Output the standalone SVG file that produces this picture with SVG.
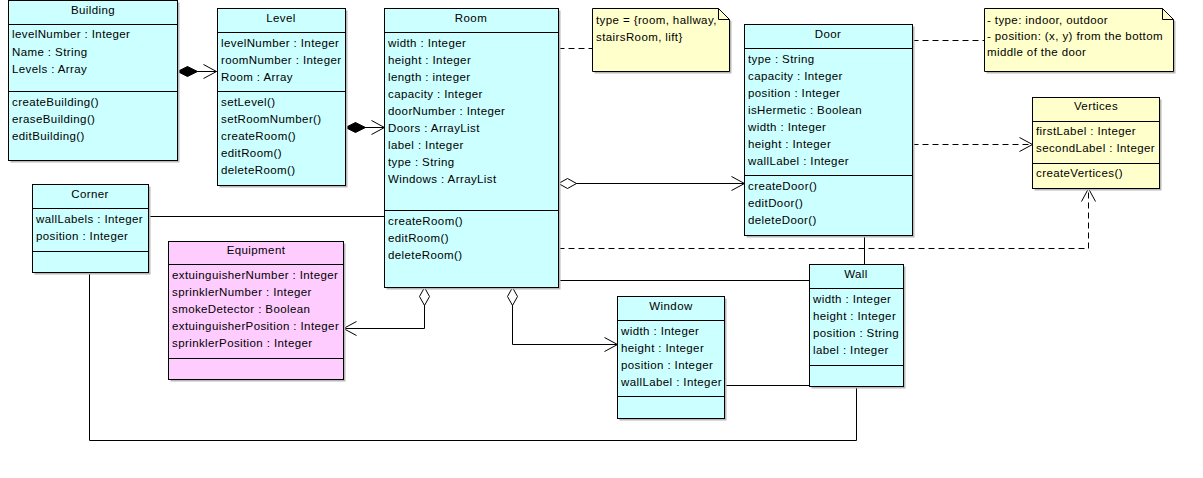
<svg xmlns="http://www.w3.org/2000/svg" width="1203" height="478" viewBox="0 0 1203 478">
  <style>
    text { font-family: "Liberation Sans", Arial, sans-serif; font-size: 11.5px; letter-spacing: 0.4px; fill: #000; }
    .title { text-anchor: middle; }
    .box { stroke: #000; stroke-width: 1; }
    .cls { fill: #ccffff; }
    .equip { fill: #ffccff; }
    .yel { fill: #ffffcc; }
    .shadow { fill: #b8b8b8; }
    .sep { stroke: #000; stroke-width: 1; fill: none; }
    .edge { stroke: #000; stroke-width: 1; fill: none; }
    .dash { stroke-dasharray: 6 4; }
  </style>
  <defs>
    <marker id="arrow" markerUnits="userSpaceOnUse" markerWidth="20" markerHeight="20" refX="0" refY="0" orient="auto" overflow="visible">
      <path d="M-13,-7 L0,0 L-13,7" fill="none" stroke="#000" stroke-width="1"/>
    </marker>
    <marker id="composite" markerUnits="userSpaceOnUse" markerWidth="24" markerHeight="12" refX="0" refY="0" orient="auto" overflow="visible">
      <path d="M0,0 L10,-5 L20,0 L10,5 Z" fill="#000" stroke="#000" stroke-width="1"/>
    </marker>
    <marker id="aggregate" markerUnits="userSpaceOnUse" markerWidth="24" markerHeight="12" refX="0" refY="0" orient="auto" overflow="visible">
      <path d="M0,0 L9,-5 L18,0 L9,5 Z" fill="#fff" stroke="#000" stroke-width="1"/>
    </marker>
  </defs>

  <rect width="1203" height="478" fill="#fff"/>

  <!-- associations, dependencies and whole/part links -->
  <g id="connectors">
    <path class="edge" d="M177.5,71.5 H216.5" marker-start="url(#composite)" marker-end="url(#arrow)"/>
    <path class="edge" d="M345.5,127.5 H384.5" marker-start="url(#composite)" marker-end="url(#arrow)"/>
    <path class="edge" d="M558.5,183.5 H744.5" marker-start="url(#aggregate)" marker-end="url(#arrow)"/>
    <path class="edge" d="M424.5,287.5 V328.5 H343.5" marker-start="url(#aggregate)" marker-end="url(#arrow)"/>
    <path class="edge" d="M512.5,287.5 V344.5 H617.5" marker-start="url(#aggregate)" marker-end="url(#arrow)"/>
    <path class="edge dash" d="M558.5,48.5 H592.5"/>
    <path class="edge dash" d="M912.5,40.5 H984.5"/>
    <path class="edge dash" d="M912.5,144.5 H1032.5" marker-end="url(#arrow)"/>
    <path class="edge dash" d="M558.5,248.5 H1088.5 V188.5" marker-end="url(#arrow)"/>
    <path class="edge" d="M148.5,216.5 H384.5"/>
    <path class="edge" d="M558.5,280.5 H809.5"/>
    <path class="edge" d="M864.5,235.5 V264.5"/>
    <path class="edge" d="M724.5,385.5 H809.5"/>
    <path class="edge" d="M89.5,272.5 V440.5 H856.5 V386.5"/>
  </g>

  <g id="building">
    <rect class="shadow" x="10.5" y="2.5" width="169" height="160"/>
    <rect class="box cls" x="8.5" y="0.5" width="169" height="160"/>
    <path class="sep" d="M8.5,24.5 H177.5 M8.5,91.5 H177.5"/>
    <text class="title" x="93" y="14">Building</text>
    <text x="12" y="38">levelNumber : Integer</text>
    <text x="12" y="56">Name : String</text>
    <text x="12" y="73">Levels : Array</text>
    <text x="12" y="106">createBuilding()</text>
    <text x="12" y="123">eraseBuilding()</text>
    <text x="12" y="140">editBuilding()</text>
  </g>

  <g id="level">
    <rect class="shadow" x="219.5" y="10.5" width="128" height="177"/>
    <rect class="box cls" x="217.5" y="8.5" width="128" height="177"/>
    <path class="sep" d="M217.5,32.5 H345.5 M217.5,91.5 H345.5"/>
    <text class="title" x="281" y="22">Level</text>
    <text x="221" y="47">levelNumber : Integer</text>
    <text x="221" y="64">roomNumber : Integer</text>
    <text x="221" y="81">Room : Array</text>
    <text x="221" y="106">setLevel()</text>
    <text x="221" y="123">setRoomNumber()</text>
    <text x="221" y="140">createRoom()</text>
    <text x="221" y="157">editRoom()</text>
    <text x="221" y="174">deleteRoom()</text>
  </g>

  <g id="room">
    <rect class="shadow" x="386.5" y="10.5" width="174" height="279"/>
    <rect class="box cls" x="384.5" y="8.5" width="174" height="279"/>
    <path class="sep" d="M384.5,32.5 H558.5 M384.5,210.5 H558.5"/>
    <text class="title" x="471" y="22">Room</text>
    <text x="388" y="47">width : Integer</text>
    <text x="388" y="64">height : Integer</text>
    <text x="388" y="81">length : integer</text>
    <text x="388" y="98">capacity : Integer</text>
    <text x="388" y="115">doorNumber : Integer</text>
    <text x="388" y="132">Doors : ArrayList</text>
    <text x="388" y="149">label : Integer</text>
    <text x="388" y="166">type : String</text>
    <text x="388" y="183">Windows : ArrayList</text>
    <text x="388" y="225">createRoom()</text>
    <text x="388" y="242">editRoom()</text>
    <text x="388" y="259">deleteRoom()</text>
  </g>

  <g id="room-type-note">
    <path class="shadow" d="M594.5,10.5 H720.5 L731.5,21.5 V73.5 H594.5 Z"/>
    <path class="box yel" d="M592.5,8.5 H718.5 L729.5,19.5 V71.5 H592.5 Z"/>
    <path class="sep" d="M718.5,8.5 V19.5 H729.5"/>
    <text x="596" y="24">type = {room, hallway,</text>
    <text x="596" y="41">stairsRoom, lift}</text>
  </g>

  <g id="door">
    <rect class="shadow" x="746.5" y="26.5" width="168" height="211"/>
    <rect class="box cls" x="744.5" y="24.5" width="168" height="211"/>
    <path class="sep" d="M744.5,48.5 H912.5 M744.5,175.5 H912.5"/>
    <text class="title" x="828" y="38">Door</text>
    <text x="748" y="63">type : String</text>
    <text x="748" y="80">capacity : Integer</text>
    <text x="748" y="97">position : Integer</text>
    <text x="748" y="114">isHermetic : Boolean</text>
    <text x="748" y="131">width : Integer</text>
    <text x="748" y="148">height : Integer</text>
    <text x="748" y="165">wallLabel : Integer</text>
    <text x="748" y="190">createDoor()</text>
    <text x="748" y="207">editDoor()</text>
    <text x="748" y="224">deleteDoor()</text>
  </g>

  <g id="door-note">
    <path class="shadow" d="M986.5,10.5 H1164.5 L1175.5,21.5 V73.5 H986.5 Z"/>
    <path class="box yel" d="M984.5,8.5 H1162.5 L1173.5,19.5 V71.5 H984.5 Z"/>
    <path class="sep" d="M1162.5,8.5 V19.5 H1173.5"/>
    <text x="987" y="24">- type: indoor, outdoor</text>
    <text x="987" y="40">- position: (x, y) from the bottom</text>
    <text x="987" y="56">middle of the door</text>
  </g>

  <g id="vertices">
    <rect class="shadow" x="1034.5" y="99.5" width="127" height="91"/>
    <rect class="box yel" x="1032.5" y="97.5" width="127" height="91"/>
    <path class="sep" d="M1032.5,121.5 H1159.5 M1032.5,163.5 H1159.5"/>
    <text class="title" x="1096" y="110">Vertices</text>
    <text x="1036" y="135">firstLabel : Integer</text>
    <text x="1036" y="152">secondLabel : Integer</text>
    <text x="1036" y="177">createVertices()</text>
  </g>

  <g id="corner">
    <rect class="shadow" x="34.5" y="186.5" width="116" height="88"/>
    <rect class="box cls" x="32.5" y="184.5" width="116" height="88"/>
    <path class="sep" d="M32.5,208.5 H148.5 M32.5,251.5 H148.5"/>
    <text class="title" x="90" y="198">Corner</text>
    <text x="36" y="223">wallLabels : Integer</text>
    <text x="36" y="240">position : Integer</text>
  </g>

  <g id="equipment">
    <rect class="shadow" x="170.5" y="243.5" width="175" height="138"/>
    <rect class="box equip" x="168.5" y="241.5" width="175" height="138"/>
    <path class="sep" d="M168.5,264.5 H343.5 M168.5,358.5 H343.5"/>
    <text class="title" x="256" y="254">Equipment</text>
    <text x="172" y="279">extuinguisherNumber : Integer</text>
    <text x="172" y="296">sprinklerNumber : Integer</text>
    <text x="172" y="313">smokeDetector : Boolean</text>
    <text x="172" y="330">extuinguisherPosition : Integer</text>
    <text x="172" y="347">sprinklerPosition : Integer</text>
  </g>

  <g id="window">
    <rect class="shadow" x="619.5" y="298.5" width="107" height="122"/>
    <rect class="box cls" x="617.5" y="296.5" width="107" height="122"/>
    <path class="sep" d="M617.5,320.5 H724.5 M617.5,396.5 H724.5"/>
    <text class="title" x="671" y="310">Window</text>
    <text x="621" y="335">width : Integer</text>
    <text x="621" y="352">height : Integer</text>
    <text x="621" y="369">position : Integer</text>
    <text x="621" y="386">wallLabel : Integer</text>
  </g>

  <g id="wall">
    <rect class="shadow" x="811.5" y="266.5" width="94" height="122"/>
    <rect class="box cls" x="809.5" y="264.5" width="94" height="122"/>
    <path class="sep" d="M809.5,288.5 H903.5 M809.5,365.5 H903.5"/>
    <text class="title" x="856" y="278">Wall</text>
    <text x="813" y="303">width : Integer</text>
    <text x="813" y="320">height : Integer</text>
    <text x="813" y="337">position : String</text>
    <text x="813" y="354">label : Integer</text>
  </g>
</svg>
